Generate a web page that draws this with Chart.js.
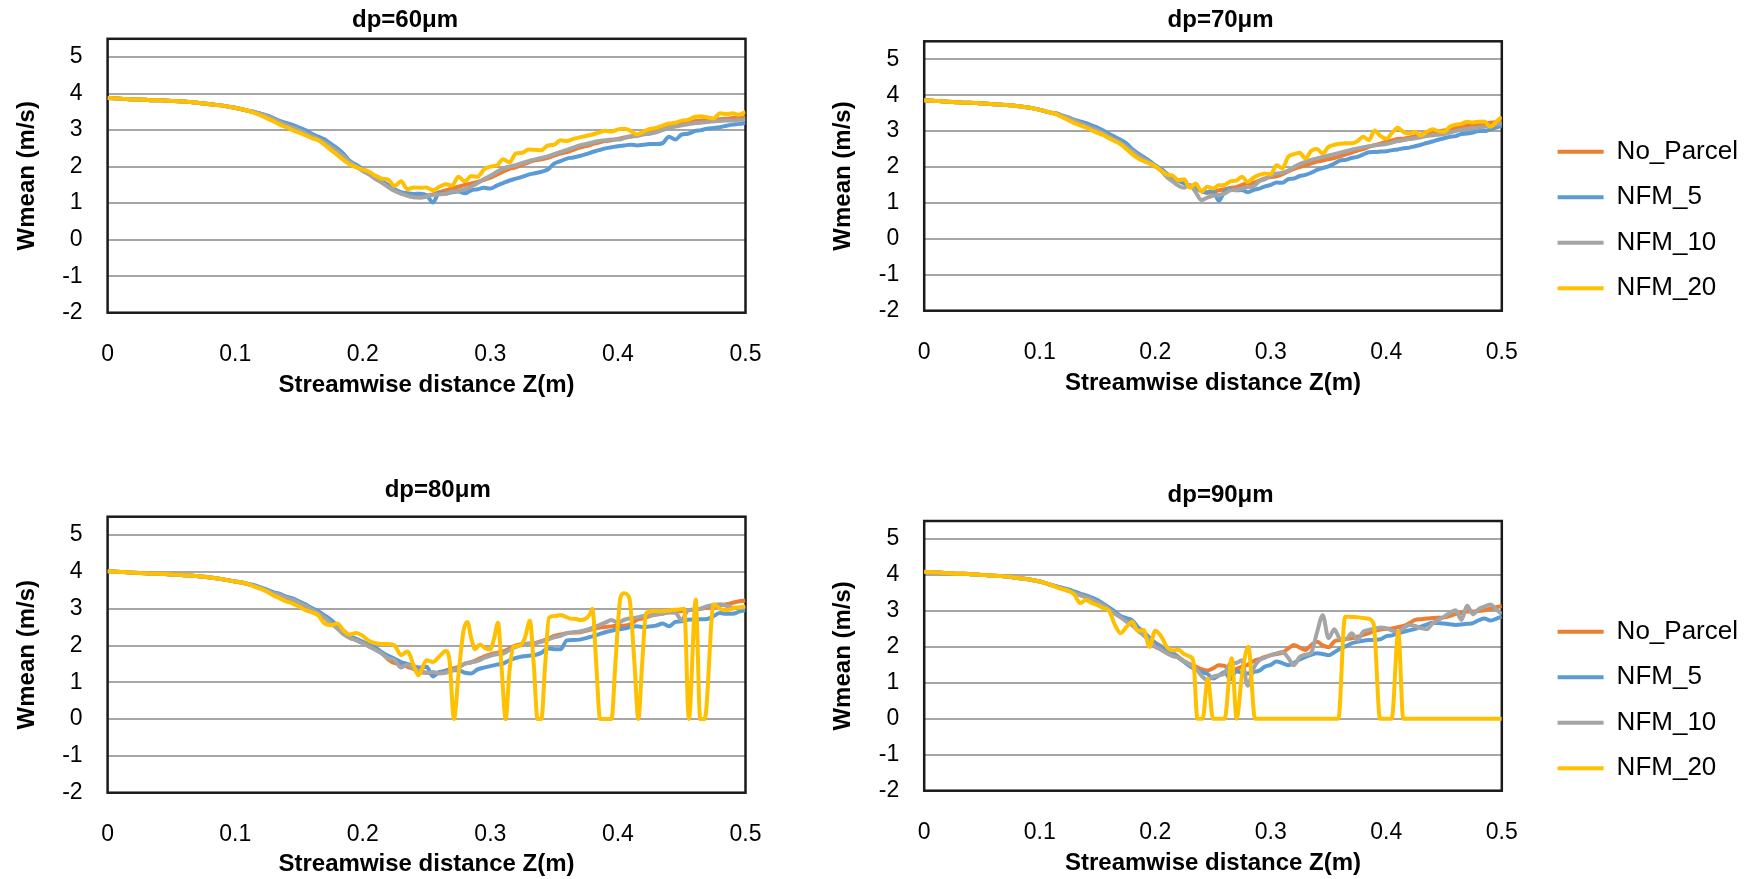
<!DOCTYPE html>
<html>
<head>
<meta charset="utf-8">
<script src="https://cdn.jsdelivr.net/npm/chart.js@4.4.1/dist/chart.umd.min.js"></script>
<style>
  html, body { margin: 0; padding: 0; background: #fff; }
  #wrap { position: relative; width: 1748px; height: 879px; overflow: hidden; }
  canvas { position: absolute; }
</style>
</head>
<body>
<div id="wrap">
  <canvas id="c60" width="820" height="440" style="left:0;top:0"></canvas>
  <canvas id="c70" width="928" height="440" style="left:820px;top:0"></canvas>
  <canvas id="c80" width="820" height="439" style="left:0;top:440px"></canvas>
  <canvas id="c90" width="928" height="439" style="left:820px;top:440px"></canvas>
</div>
<script>
const FONT = "'Liberation Sans', Arial, sans-serif";
Chart.defaults.font.family = FONT;
Chart.defaults.color = '#000';

const seriesNames = ['No_Parcel', 'NFM_5', 'NFM_10', 'NFM_20'];
const seriesColors = ['#ED7D31', '#5B9BD5', '#A5A5A5', '#FFC000'];
const zTickLabels = ['0', '0.1', '0.2', '0.3', '0.4', '0.5'];
const wTickLabels = ['-2', '-1', '0', '1', '2', '3', '4', '5'];

// streamwise positions (m)
const zGrid = [0,0.005,0.01,0.015,0.02,0.025,0.03,0.035,0.04,0.045,0.05,0.055,0.06,0.065,0.07,0.075,0.08,0.085,0.09,0.095,
  0.1,0.105,0.11,0.115,0.12,0.125,0.13,0.135,0.14,0.145,0.15,0.155,0.16,0.165,0.17,0.175,0.18,0.185,0.19,0.195,
  0.2,0.205,0.21,0.215,0.22,0.225,0.23,0.235,0.24,0.245,0.25,0.255,0.26,0.265,0.27,0.275,0.28,0.285,0.29,0.295,
  0.3,0.305,0.31,0.315,0.32,0.325,0.33,0.335,0.34,0.345,0.35,0.355,0.36,0.365,0.37,0.375,0.38,0.385,0.39,0.395,
  0.4,0.405,0.41,0.415,0.42,0.425,0.43,0.435,0.44,0.445,0.45,0.455,0.46,0.465,0.47,0.475,0.48,0.485,0.49,0.495,0.5];

// ---- dp = 60 um ----
const lead60 = [3.88,3.87,3.86,3.85,3.84,3.84,3.83,3.82,3.82,3.81,3.80,3.79,3.78,3.77,3.75,3.73,3.71,3.69,3.67,3.64,3.61,3.57,3.53];
const noParcel60 = lead60.concat([
  3.49,3.43,3.37,3.3,3.2,3.12,3.05,2.98,2.9,2.82,
  2.74,2.64,2.52,2.4,2.25,2.1,2.0,1.9,1.8,1.67,
  1.57,1.47,1.36,1.27,1.22,1.16,1.18,1.2,1.24,1.3,
  1.35,1.4,1.45,1.5,1.54,1.58,1.64,1.7,1.78,1.86,
  1.94,1.98,2.05,2.12,2.17,2.2,2.24,2.3,2.36,2.4,
  2.46,2.52,2.56,2.62,2.66,2.7,2.72,2.76,2.8,2.83,
  2.86,2.93,2.98,3.02,3.08,3.12,3.15,3.2,3.2,3.24,
  3.26,3.28,3.29,3.3,3.31,3.33,3.34,3.35]);
const nfm5_60 = lead60.concat([
  3.50,3.45,3.40,3.33,3.25,3.2,3.14,3.07,3.0,2.9,
  2.82,2.75,2.62,2.5,2.35,2.15,2.05,1.93,1.83,1.7,
  1.6,1.5,1.38,1.3,1.27,1.25,1.26,1.22,1.02,1.28,
  1.26,1.3,1.32,1.27,1.35,1.38,1.42,1.4,1.48,1.55,
  1.62,1.67,1.72,1.78,1.82,1.86,1.92,2.08,2.15,2.22,
  2.25,2.29,2.34,2.4,2.45,2.5,2.53,2.56,2.58,2.6,
  2.58,2.6,2.62,2.62,2.64,2.82,2.74,2.88,2.9,2.97,
  3.0,3.04,3.06,3.08,3.12,3.15,3.17,3.2]);
const nfm10_60 = lead60.concat([
  3.49,3.44,3.38,3.3,3.22,3.14,3.07,3.0,2.92,2.84,
  2.75,2.66,2.55,2.42,2.28,2.12,2.0,1.88,1.78,1.66,
  1.56,1.44,1.33,1.26,1.2,1.16,1.15,1.18,1.22,1.24,
  1.26,1.32,1.34,1.38,1.45,1.55,1.66,1.75,1.85,1.95,
  2.0,2.04,2.1,2.15,2.2,2.24,2.28,2.34,2.4,2.46,
  2.52,2.58,2.62,2.66,2.7,2.72,2.74,2.74,2.78,2.82,
  2.84,2.88,2.9,2.94,3.0,3.06,3.1,3.13,3.16,3.19,
  3.2,3.22,3.24,3.25,3.26,3.26,3.28,3.29]);
const nfm20_60 = lead60.concat([
  3.47,3.4,3.32,3.24,3.15,3.08,3.0,2.93,2.86,2.78,
  2.72,2.6,2.46,2.32,2.18,2.06,1.98,1.92,1.86,1.75,
  1.67,1.64,1.47,1.6,1.38,1.43,1.42,1.43,1.35,1.45,
  1.52,1.48,1.72,1.6,1.74,1.72,1.92,2.0,2.03,2.2,
  2.12,2.36,2.38,2.47,2.46,2.45,2.58,2.6,2.72,2.7,
  2.76,2.8,2.84,2.88,2.93,2.98,2.96,3.02,3.04,2.98,
  2.88,2.96,3.03,3.06,3.12,3.18,3.2,3.26,3.28,3.36,
  3.38,3.35,3.32,3.46,3.44,3.46,3.42,3.5]);

// ---- dp = 70 um ----
const lead70 = [3.86,3.85,3.84,3.83,3.82,3.81,3.8,3.79,3.79,3.78,3.77,3.76,3.75,3.74,3.73,3.72,3.7,3.68,3.66,3.63,3.59,3.55,3.51];
const noParcel70 = lead70.concat([
  3.48,3.42,3.35,3.28,3.2,3.13,3.06,3.0,2.92,2.84,
  2.74,2.66,2.55,2.42,2.3,2.2,2.12,2.02,1.92,1.8,
  1.72,1.62,1.55,1.48,1.42,1.33,1.28,1.3,1.35,1.38,
  1.42,1.44,1.5,1.55,1.56,1.62,1.68,1.72,1.74,1.8,
  1.88,1.95,2.0,2.05,2.1,2.15,2.18,2.22,2.25,2.3,
  2.35,2.4,2.46,2.5,2.56,2.61,2.65,2.7,2.74,2.78,
  2.79,2.82,2.86,2.9,2.95,2.98,3.0,3.02,3.05,3.08,
  3.12,3.16,3.18,3.2,3.21,3.23,3.25,3.27]);
const nfm5_70 = lead70.concat([
  3.49,3.43,3.38,3.32,3.27,3.22,3.16,3.1,3.02,2.92,
  2.84,2.76,2.66,2.5,2.38,2.28,2.17,2.05,1.95,1.82,
  1.7,1.62,1.55,1.45,1.4,1.33,1.3,1.35,1.06,1.32,
  1.38,1.35,1.36,1.3,1.36,1.4,1.46,1.5,1.57,1.56,
  1.66,1.68,1.75,1.78,1.84,1.92,1.97,2.02,2.1,2.18,
  2.2,2.25,2.28,2.35,2.41,2.42,2.43,2.44,2.47,2.49,
  2.52,2.54,2.58,2.62,2.67,2.71,2.76,2.8,2.84,2.86,
  2.92,2.93,2.96,3.0,3.0,3.05,3.1,3.15]);
const nfm10_70 = lead70.concat([
  3.48,3.42,3.36,3.3,3.22,3.15,3.08,3.02,2.94,2.85,
  2.76,2.67,2.56,2.44,2.32,2.22,2.13,2.02,1.9,1.72,
  1.6,1.48,1.42,1.5,1.3,1.08,1.15,1.2,1.22,1.26,
  1.35,1.36,1.4,1.44,1.46,1.6,1.66,1.76,1.82,1.84,
  1.9,2.0,2.08,2.14,2.2,2.24,2.28,2.32,2.36,2.4,
  2.44,2.48,2.52,2.55,2.58,2.6,2.62,2.64,2.68,2.72,
  2.75,2.78,2.8,2.83,2.86,2.88,2.9,2.92,2.96,3.0,
  3.04,3.06,3.08,3.1,3.12,3.14,3.18,3.22]);
const nfm20_70 = lead70.concat([
  3.46,3.38,3.3,3.22,3.16,3.1,3.02,2.95,2.89,2.8,
  2.72,2.63,2.5,2.36,2.24,2.16,2.1,2.02,1.9,1.79,
  1.76,1.63,1.66,1.42,1.54,1.32,1.45,1.4,1.49,1.5,
  1.6,1.62,1.73,1.58,1.7,1.78,1.82,1.8,2.05,1.96,
  2.28,2.36,2.4,2.24,2.45,2.5,2.38,2.56,2.62,2.65,
  2.66,2.66,2.72,2.84,2.75,3.02,2.86,2.79,2.95,3.09,
  2.97,2.93,2.98,2.87,2.98,3.05,3.0,2.98,3.12,3.18,
  3.2,3.26,3.24,3.26,3.27,3.12,3.25,3.4]);

// ---- dp = 80 um ----
const lead80 = [4.02,4.01,4.0,3.99,3.98,3.97,3.96,3.95,3.95,3.94,3.93,3.92,3.91,3.9,3.89,3.87,3.85,3.83,3.8,3.77,3.74,3.71,3.67];
const noParcel80 = lead80.concat([
  3.62,3.56,3.5,3.42,3.36,3.28,3.22,3.14,3.06,2.96,
  2.86,2.76,2.62,2.5,2.36,2.22,2.15,2.07,1.98,1.9,
  1.8,1.62,1.52,1.5,1.42,1.36,1.28,1.26,1.25,1.26,
  1.32,1.37,1.42,1.5,1.55,1.62,1.7,1.76,1.8,1.84,
  1.92,2.0,2.04,2.05,2.06,2.12,2.18,2.26,2.3,2.33,
  2.35,2.36,2.4,2.44,2.48,2.5,2.52,2.54,2.54,2.58,
  2.7,2.74,2.8,2.84,2.87,2.9,2.92,2.94,2.96,2.98,
  3.0,3.03,3.06,3.1,3.12,3.16,3.2,3.22]);
const nfm5_80 = lead80.concat([
  3.64,3.58,3.52,3.45,3.4,3.33,3.28,3.2,3.12,3.02,
  2.94,2.82,2.7,2.55,2.4,2.25,2.18,2.1,2.02,1.94,
  1.82,1.72,1.64,1.55,1.5,1.44,1.4,1.42,1.16,1.28,
  1.3,1.33,1.33,1.26,1.24,1.35,1.4,1.44,1.48,1.51,
  1.6,1.66,1.7,1.72,1.74,1.8,1.92,1.9,1.9,2.14,
  2.15,2.16,2.2,2.25,2.3,2.36,2.4,2.44,2.46,2.5,
  2.52,2.5,2.52,2.54,2.6,2.52,2.64,2.66,2.7,2.71,
  2.71,2.72,2.8,2.88,2.86,2.86,2.92,2.96]);
const nfm10_80 = lead80.concat([
  3.62,3.56,3.5,3.42,3.37,3.3,3.24,3.16,3.08,2.98,
  2.88,2.76,2.6,2.46,2.3,2.2,2.14,2.06,1.97,1.88,
  1.78,1.65,1.6,1.4,1.48,1.37,1.3,1.26,1.28,1.24,
  1.26,1.32,1.4,1.51,1.54,1.58,1.66,1.72,1.76,1.78,
  1.88,1.96,2.02,2.05,2.07,2.1,2.16,2.22,2.26,2.34,
  2.36,2.38,2.42,2.48,2.55,2.62,2.69,2.62,2.7,2.74,
  2.76,2.8,2.82,2.84,2.86,2.9,2.89,2.69,2.96,2.97,
  3.0,3.07,3.1,3.12,3.08,3.03,3.02,3.04]);
const zNfm20_80 = zGrid.slice(0, 49).concat([
  0.2435,0.25,0.255,0.26,0.265,0.268,0.2715,0.275,0.279,0.282,
  0.285,0.288,0.292,0.296,0.3,0.303,0.306,0.309,0.312,0.315,
  0.318,0.323,0.327,0.331,0.334,0.337,0.34,0.343,0.346,0.351,
  0.355,0.359,0.363,0.367,0.371,0.375,0.378,0.38,0.383,0.386,
  0.39,0.395,0.398,0.402,0.405,0.409,0.413,0.416,0.419,0.422,
  0.427,0.432,0.437,0.442,0.448,0.452,0.4556,0.461,0.4645,0.468,
  0.475,0.48,0.484,0.488,0.493,0.497,0.5]);
const nfm20_80 = lead80.concat([
  3.6,3.54,3.46,3.36,3.28,3.2,3.14,3.06,2.96,2.9,
  2.82,2.6,2.55,2.6,2.4,2.3,2.34,2.26,2.12,2.06,
  2.04,2.04,2.0,1.74,1.84,1.45,
  1.19,1.6,1.55,1.7,1.85,1.6,0,1.2,2.4,2.64,
  2.2,1.9,2.03,1.92,1.9,2.2,2.62,1.3,0,1.3,
  1.96,2.0,2.2,2.67,1.5,0,0,1.5,2.76,2.8,
  2.83,2.78,2.73,2.72,2.69,2.74,2.85,3.0,1.5,0,
  0,0,1.5,3.3,3.42,3.28,1.5,0,1.5,2.87,
  2.94,2.93,2.94,2.96,2.98,3.0,0,3.25,0,0,
  3.12,3.0,2.96,2.98,3.03,3.04,3.07]);

// ---- dp = 90 um ----
const lead90 = [4.09,4.08,4.07,4.06,4.05,4.04,4.03,4.03,4.02,4.01,4.0,3.99,3.98,3.97,3.96,3.94,3.92,3.9,3.88,3.85,3.82,3.77,3.72];
const noParcel90 = lead90.concat([
  3.67,3.62,3.56,3.5,3.44,3.38,3.32,3.25,3.16,3.06,
  2.95,2.84,2.74,2.64,2.5,2.38,2.24,2.12,2.02,1.92,
  1.84,1.72,1.6,1.52,1.45,1.38,1.34,1.4,1.49,1.47,
  1.34,1.38,1.45,1.5,1.6,1.66,1.72,1.77,1.8,1.84,
  1.95,2.05,1.98,1.91,2.05,2.14,2.04,1.99,2.15,2.19,
  2.22,2.24,2.28,2.33,2.38,2.45,2.48,2.5,2.51,2.55,
  2.58,2.66,2.75,2.77,2.79,2.8,2.81,2.82,2.86,2.91,
  2.94,2.98,2.98,3.0,3.02,3.06,3.1,3.14]);
const nfm5_90 = lead90.concat([
  3.68,3.64,3.6,3.54,3.48,3.43,3.37,3.3,3.2,3.1,
  2.98,2.86,2.8,2.74,2.55,2.42,2.25,2.1,2.0,1.9,
  1.82,1.7,1.58,1.46,1.38,1.3,1.25,1.12,1.2,1.3,
  1.1,1.32,1.28,1.26,1.3,1.34,1.45,1.5,1.59,1.55,
  1.49,1.55,1.65,1.72,1.78,1.82,1.8,1.77,1.85,1.95,
  2.02,2.1,2.14,2.17,2.19,2.2,2.21,2.3,2.32,2.38,
  2.42,2.46,2.5,2.56,2.62,2.67,2.66,2.65,2.63,2.61,
  2.62,2.64,2.66,2.74,2.79,2.73,2.78,2.84]);
const nfm10_90 = lead90.concat([
  3.67,3.62,3.56,3.5,3.44,3.38,3.32,3.24,3.15,3.04,
  2.92,2.82,2.7,2.6,2.45,2.32,2.18,2.0,1.92,1.82,
  1.74,1.7,1.6,1.5,1.4,1.2,1.08,1.17,1.21,1.26,
  1.54,1.55,1.63,0.92,1.4,1.63,1.7,1.77,1.82,1.86,
  1.7,1.49,1.72,1.78,1.84,2.4,2.88,2.24,2.49,2.22,
  2.21,2.38,2.2,2.42,2.47,2.5,2.54,2.52,2.45,2.42,
  2.52,2.61,2.58,2.52,2.49,2.65,2.75,2.84,2.94,3.02,
  2.75,3.14,2.91,3.05,3.12,3.18,3.05,2.91]);
const zNfm20_90 = zGrid.slice(0, 47).concat([
  0.233,0.2365,0.241,0.2455,0.25,0.255,0.26,0.2662,0.2705,0.275,
  0.2806,0.2864,0.3,0.32,0.34,0.3585,0.3643,0.37,0.376,0.383,
  0.389,0.3946,0.4047,0.4104,0.4147,0.43,0.46,0.5]);
const nfm20_90 = lead90.concat([
  3.65,3.6,3.56,3.45,3.22,3.3,3.22,3.16,3.08,3.0,
  2.62,2.38,2.55,2.7,2.44,2.47,2.0,2.45,2.3,2.0,
  1.9,1.92,1.8,1.73,
  1.6,0,0,1.12,0,0,0,1.68,0,1.2,
  2.0,0,0,0,0,0,2.84,2.83,2.82,2.79,
  2.65,0,0,2.42,0,0,0,0]);

// plot-area frame like the spreadsheet chart
const plotFrame = {
  id: 'plotFrame',
  beforeDatasetsDraw(chart) {
    const {ctx, chartArea} = chart;
    ctx.save();
    ctx.strokeStyle = '#1a1a1a';
    ctx.lineWidth = 2.5;
    ctx.strokeRect(chartArea.left, chartArea.top, chartArea.right - chartArea.left, chartArea.bottom - chartArea.top);
    ctx.restore();
  }
};

const panelTitle = {
  id: 'panelTitle',
  afterDraw(chart, args, opts) {
    const ctx = chart.ctx;
    ctx.save();
    ctx.font = 'bold 24px ' + FONT;
    ctx.fillStyle = '#000';
    ctx.textAlign = 'center';
    ctx.textBaseline = 'middle';
    ctx.fillText(opts.text, opts.x, opts.y);
    ctx.restore();
  }
};

function makeChart(id, cfg) {
  const datasets = cfg.series.map((s, i) => ({
    label: seriesNames[i],
    data: s.z.map((z, k) => ({x: z, y: s.w[k]})),
    borderColor: seriesColors[i],
    backgroundColor: seriesColors[i],
    borderWidth: 4,
    pointRadius: 0,
    cubicInterpolationMode: 'monotone',
    fill: false,
    order: 4 - i,
    yAxisID: 'y'
  }));

  const scales = {
    x: {
      type: 'linear', min: 0, max: 0.5,
      afterFit: s => { s.height = cfg.xH; },
      grid: { display: false },
      border: { display: false },
      ticks: {
        stepSize: 0.1, padding: 20, maxRotation: 0, autoSkip: false,
        font: { size: 23 }, color: '#000',
        callback: (v, i) => zTickLabels[i]
      },
      title: {
        display: true, text: 'Streamwise distance Z(m)', color: '#000',
        font: { size: 24, weight: 'bold' },
        padding: { top: 0, bottom: cfg.xTitlePad }
      }
    },
    y: {
      min: -2, max: 5.5,
      afterFit: s => { s.width = cfg.yW; },
      grid: { color: '#a6a6a6', lineWidth: 2, drawTicks: false },
      border: { display: false },
      ticks: {
        stepSize: 1, includeBounds: false, padding: 25,
        font: { size: 23 }, color: '#000',
        callback: (v, i) => wTickLabels[i]
      },
      title: {
        display: true, text: 'Wmean (m/s)', color: '#000',
        font: { size: 24, weight: 'bold' },
        padding: { top: cfg.yTitlePad, bottom: 0 }
      }
    }
  };
  if (cfg.legend) {
    // empty spacer between plot area and legend
    scales.gap = {
      type: 'linear', position: 'right', display: true,
      grid: { display: false }, border: { display: false },
      ticks: { display: false },
      afterFit: s => { s.width = cfg.gapW; }
    };
  }

  new Chart(document.getElementById(id), {
    type: 'line',
    data: { datasets },
    options: {
      responsive: false,
      animation: false,
      events: [],
      layout: { padding: cfg.pad },
      scales,
      plugins: {
        legend: cfg.legend ? {
          display: true, position: 'right', align: 'center', maxWidth: 400,
          labels: {
            boxWidth: 46, boxHeight: 4, padding: 19.5, color: '#000',
            font: { size: 26 },
            sort: (a, b) => a.datasetIndex - b.datasetIndex,
            generateLabels: chart => Chart.defaults.plugins.legend.labels.generateLabels(chart)
              .map(l => Object.assign(l, { lineWidth: 0 }))
          }
        } : { display: false },
        tooltip: { enabled: false },
        panelTitle: { text: cfg.title, x: cfg.tx, y: cfg.ty }
      }
    },
    plugins: [plotFrame, panelTitle]
  });
}

makeChart('c60', {
  title: 'dp=60μm', tx: 405, ty: 20,
  pad: { left: 0, right: 74.5, top: 36.7, bottom: 0 },
  yW: 107.6, xH: 127.3, xTitlePad: 40.6, yTitlePad: 13.2, legend: false,
  series: [
    { z: zGrid, w: noParcel60 }, { z: zGrid, w: nfm5_60 },
    { z: zGrid, w: nfm10_60 }, { z: zGrid, w: nfm20_60 }
  ]
});
makeChart('c70', {
  title: 'dp=70μm', tx: 400.6, ty: 20,
  pad: { left: 0, right: 0, top: 41.3, bottom: 41.4 },
  yW: 104.2, xH: 87.9, xTitlePad: 0.9, yTitlePad: 9.3, legend: true, gapW: 36.3,
  series: [
    { z: zGrid, w: noParcel70 }, { z: zGrid, w: nfm5_70 },
    { z: zGrid, w: nfm10_70 }, { z: zGrid, w: nfm20_70 }
  ]
});
makeChart('c80', {
  title: 'dp=80μm', tx: 437.7, ty: 50,
  pad: { left: 0, right: 74.5, top: 76.7, bottom: 0 },
  yW: 107.6, xH: 86.3, xTitlePad: 0, yTitlePad: 13.2, legend: false,
  series: [
    { z: zGrid, w: noParcel80 }, { z: zGrid, w: nfm5_80 },
    { z: zGrid, w: nfm10_80 }, { z: zNfm20_80, w: nfm20_80 }
  ]
});
makeChart('c90', {
  title: 'dp=90μm', tx: 400.6, ty: 55,
  pad: { left: 0, right: 0, top: 81, bottom: 0 },
  yW: 104.2, xH: 88.3, xTitlePad: 1.3, yTitlePad: 9.3, legend: true, gapW: 36.3,
  series: [
    { z: zGrid, w: noParcel90 }, { z: zGrid, w: nfm5_90 },
    { z: zGrid, w: nfm10_90 }, { z: zNfm20_90, w: nfm20_90 }
  ]
});
</script>
</body>
</html>
